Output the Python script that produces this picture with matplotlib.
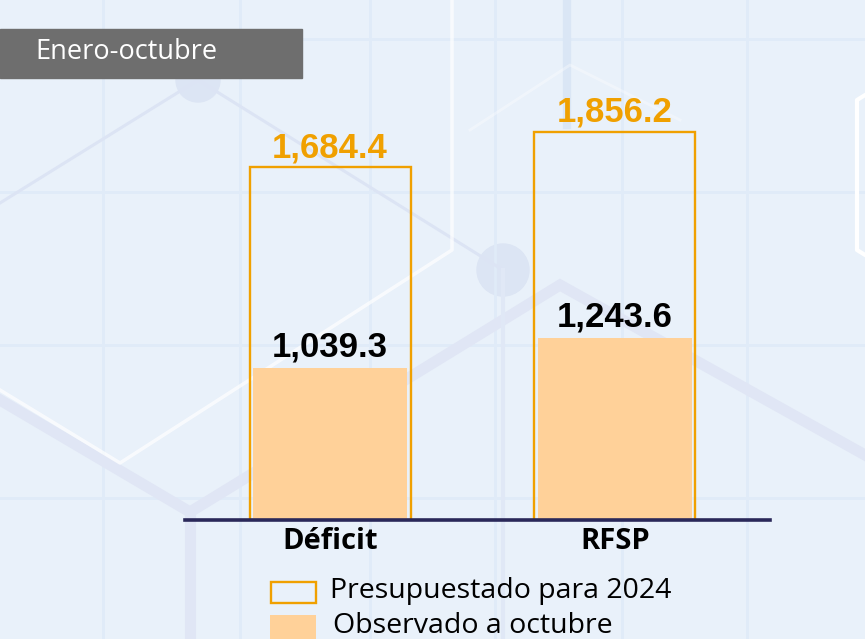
"""
Déficit y RFSP, enero-octubre: presupuestado 2024 vs observado a octubre
"""

import numpy as np
import matplotlib.pyplot as plt
from matplotlib.patches import Rectangle, Circle

categories = ["Déficit", "RFSP"]
presupuestado = [1684.4, 1856.2]
observado = [1039.3, 1243.6]
legend_labels = ["Presupuestado para 2024", "Observado a octubre"]
period_label = "Enero-octubre"

ORANGE = "#F0A000"
PEACH = "#FFD199"
NAVY = "#2A2859"
BG = "#E9F1FA"
W, H = 865, 639

fig = plt.figure(figsize=(W / 100, H / 100), dpi=100)
fig.patch.set_facecolor(BG)

# decorative background (pixel coords, y down)
bg = fig.add_axes([0, 0, 1, 1], zorder=0)
bg.set_xlim(0, W)
bg.set_ylim(H, 0)
bg.axis("off")
for gx in [103, 240, 370, 495, 622, 747]:
    bg.axvline(gx, color="#E0EBF8", lw=2)
for gy in [39, 192, 345, 498]:
    bg.axhline(gy, color="#E0EBF8", lw=2)
bg.plot([0, 198, 503], [203, 80, 270], color="#DCE4F4", lw=2.2)
bg.plot([0, 190, 560, 865], [400, 512, 285, 455], color="#E0E6F5", lw=8,
        solid_joinstyle="miter")
bg.plot([190, 190], [512, 639], color="#E0E6F5", lw=8)
bg.plot([503, 503], [270, 639], color="#E0E8F6", lw=3)
bg.plot([567, 567], [0, 125], color="#DAE6F5", lw=6)
bg.plot([452, 452, 120, 0], [0, 250, 463, 390], color="white", lw=2.5, alpha=0.7)
bg.plot([470, 570, 680], [130, 65, 120], color="white", lw=2, alpha=0.35)
bg.plot([870, 857, 857, 870], [92, 100, 250, 258], color="white", lw=3)
bg.add_patch(Circle((198, 80), 22, color="#DCE5F4"))
bg.add_patch(Circle((503, 270), 26, color="#DCE5F4"))

# main chart
ax = fig.add_axes([185 / W, 119 / H, 585 / W, 500 / H], zorder=2)
ax.patch.set_visible(False)
x = np.arange(len(categories))
ax.bar(x, presupuestado, width=0.565, facecolor="none", edgecolor=ORANGE, lw=1.7)
ax.set_xlim(-0.509, 1.544)
ax.set_ylim(0, 2389)

ax2 = ax.twinx()
ax2.bar(x, observado, width=0.54, color=PEACH, lw=0)
ax2.set_ylim(0, 3408)
ax2.axhline(0, color=NAVY, lw=2.6, clip_on=False, zorder=5)

for xi, v in zip(x, presupuestado):
    ax.annotate(f"{v:,.1f}", (xi, v), xytext=(0, 7.5), textcoords="offset points",
                ha="center", va="baseline", fontsize=25, fontweight="bold",
                color=ORANGE, family="Liberation Sans")
for xi, v in zip(x, observado):
    ax2.annotate(f"{v:,.1f}", (xi, v), xytext=(0, 8), textcoords="offset points",
                 ha="center", va="baseline", fontsize=25, fontweight="bold",
                 color="black", family="Liberation Sans")

ax.set_xticks(x)
ax.set_xticklabels(categories, fontsize=21, fontweight="bold", family="Open Sans")
ax.tick_params(axis="x", length=0, pad=5)
for a in (ax, ax2):
    a.set_yticks([])
    for s in a.spines.values():
        s.set_visible(False)

# period tag
fig.patches.append(Rectangle((0, 1 - 78 / H), 302 / W, 49 / H, transform=fig.transFigure,
                             color="#6E6E6E", zorder=3))
fig.text(35 / W, 1 - 52 / H, period_label, color="white", fontsize=19.5,
         family="Open Sans", va="center", ha="left", zorder=4)

# legend
fig.patches.append(Rectangle((271 / W, 1 - 603 / H), 45 / W, 21 / H, transform=fig.transFigure,
                             facecolor="none", edgecolor=ORANGE, lw=1.7, zorder=3))
fig.patches.append(Rectangle((270 / W, 1 - 645 / H), 46 / W, 30 / H, transform=fig.transFigure,
                             facecolor=PEACH, lw=0, zorder=3))
fig.text(330 / W, 1 - 591 / H, legend_labels[0], fontsize=20.5, family="Open Sans",
         va="center", ha="left", color="black", zorder=4)
fig.text(333 / W, 1 - 626 / H, legend_labels[1], fontsize=20.5, family="Open Sans",
         va="center", ha="left", color="black", zorder=4)

fig.savefig("out.png", dpi=100, facecolor=BG)
